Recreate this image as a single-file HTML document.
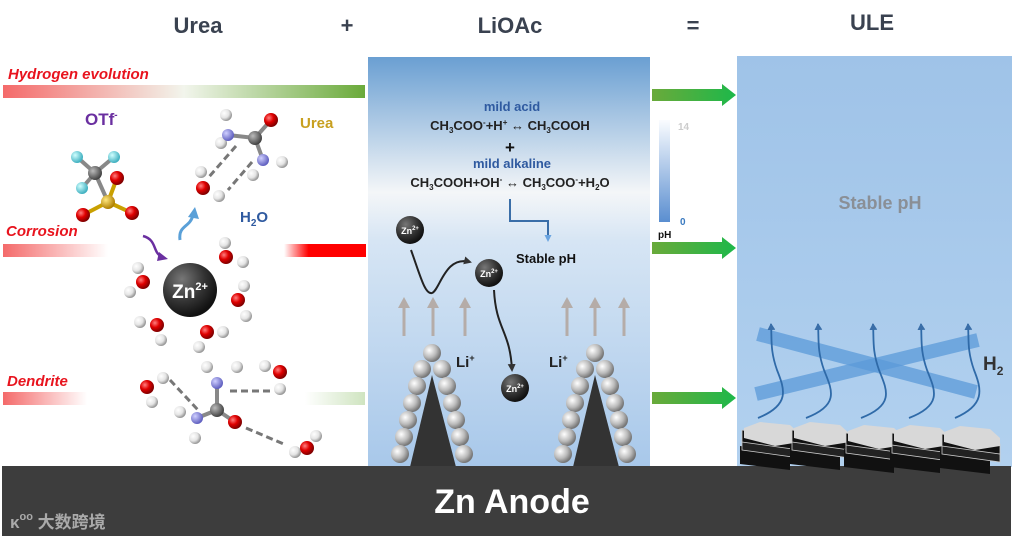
<!DOCTYPE html>
<html><head><meta charset="utf-8"><style>body{margin:0;background:#fff}svg{display:block}text{font-family:"Liberation Sans","Noto Sans CJK SC",sans-serif;font-weight:bold}</style></head><body>
<svg width="1014" height="538" viewBox="0 0 1014 538" xmlns="http://www.w3.org/2000/svg">
<defs>
<radialGradient id="gO" cx="35%" cy="35%" r="65%"><stop offset="0" stop-color="#ff8080"/><stop offset=".5" stop-color="#e00000"/><stop offset="1" stop-color="#800000"/></radialGradient>
<radialGradient id="gH" cx="35%" cy="35%" r="65%"><stop offset="0" stop-color="#fff"/><stop offset=".6" stop-color="#e4e4e4"/><stop offset="1" stop-color="#999"/></radialGradient>
<radialGradient id="gN" cx="35%" cy="35%" r="65%"><stop offset="0" stop-color="#d0d0ff"/><stop offset="1" stop-color="#6060c0"/></radialGradient>
<radialGradient id="gC" cx="35%" cy="35%" r="65%"><stop offset="0" stop-color="#bbb"/><stop offset="1" stop-color="#444"/></radialGradient>
<radialGradient id="gF" cx="35%" cy="35%" r="65%"><stop offset="0" stop-color="#d0ffff"/><stop offset="1" stop-color="#40b0c0"/></radialGradient>
<radialGradient id="gS" cx="35%" cy="35%" r="65%"><stop offset="0" stop-color="#ffe880"/><stop offset="1" stop-color="#b08000"/></radialGradient>
<radialGradient id="gZ" cx="35%" cy="30%" r="70%"><stop offset="0" stop-color="#777"/><stop offset=".6" stop-color="#333"/><stop offset="1" stop-color="#111"/></radialGradient>
<radialGradient id="gA" cx="35%" cy="35%" r="65%"><stop offset="0" stop-color="#fff"/><stop offset=".6" stop-color="#bbb"/><stop offset="1" stop-color="#777"/></radialGradient>
<linearGradient id="mid" x1="0" y1="0" x2="0" y2="1"><stop offset="0" stop-color="#6a9fd2"/><stop offset=".33" stop-color="#f4f6f8"/><stop offset=".45" stop-color="#d6e5f4"/><stop offset="1" stop-color="#a8c8ea"/></linearGradient>
<linearGradient id="rgt" x1="0" y1="0" x2="0" y2="1"><stop offset="0" stop-color="#9fc3e8"/><stop offset="1" stop-color="#b2d1ef"/></linearGradient>
<linearGradient id="hyd" x1="0" x2="1"><stop offset="0" stop-color="#f46a6a"/><stop offset=".5" stop-color="#f2f5ec"/><stop offset="1" stop-color="#6aaa3a"/></linearGradient>
<linearGradient id="corL" x1="0" x2="1"><stop offset="0" stop-color="#f46a6a"/><stop offset="1" stop-color="#fff"/></linearGradient>
<linearGradient id="corR" x1="0" x2="1"><stop offset="0" stop-color="#fff"/><stop offset=".3" stop-color="#ff0000"/><stop offset="1" stop-color="#ff0000"/></linearGradient>
<linearGradient id="denR" x1="0" x2="1"><stop offset="0" stop-color="#fff"/><stop offset="1" stop-color="#cfe4c0"/></linearGradient>
<linearGradient id="grn" x1="0" x2="1"><stop offset="0" stop-color="#6aaa3a"/><stop offset="1" stop-color="#1db84a"/></linearGradient>
<linearGradient id="ph" x1="0" y1="0" x2="0" y2="1"><stop offset="0" stop-color="#fafcff"/><stop offset="1" stop-color="#5a8ed0"/></linearGradient>
<marker id="ar" markerUnits="userSpaceOnUse" markerWidth="8" markerHeight="8" refX="6" refY="4" orient="auto"><path d="M0,0 L8,4 L0,8z" fill="#333"/></marker>
<marker id="arB" markerUnits="userSpaceOnUse" markerWidth="7" markerHeight="8" refX="6" refY="4" orient="auto"><path d="M0,0 L7,4 L0,8z" fill="#3a6ea8"/></marker>
<marker id="arL" markerUnits="userSpaceOnUse" markerWidth="7" markerHeight="7" refX="5" refY="3.5" orient="auto"><path d="M0,0 L7,3.5 L0,7z" fill="#6aa4e0"/></marker>
</defs>

<g fill="#3a4250" font-size="22" text-anchor="middle">
<text x="198" y="33">Urea</text><text x="347" y="33">+</text><text x="510" y="33">LiOAc</text><text x="693" y="33">=</text><text x="872" y="30">ULE</text></g>

<rect x="368" y="57" width="282" height="410" fill="url(#mid)"/>
<rect x="737" y="56" width="275" height="411" fill="url(#rgt)"/>

<rect x="3" y="85" width="362" height="13" fill="url(#hyd)"/>
<rect x="3" y="244" width="105" height="13" fill="url(#corL)"/>
<rect x="284" y="244" width="82" height="13" fill="url(#corR)"/>
<rect x="3" y="392" width="84" height="13" fill="url(#corL)"/>
<rect x="305" y="392" width="60" height="13" fill="url(#denR)"/>
<g fill="#e8141e" font-size="15" font-style="italic">
<text x="8" y="79">Hydrogen evolution</text><text x="6" y="236">Corrosion</text><text x="7" y="386">Dendrite</text></g>
<text x="85" y="125" fill="#6a2fa0" font-size="17">OTf<tspan font-size="10" dy="-7">-</tspan></text>
<text x="300" y="128" fill="#c8a020" font-size="15">Urea</text>
<text x="240" y="222" fill="#2f5aa0" font-size="15">H<tspan font-size="10" dy="4">2</tspan><tspan dy="-4">O</tspan></text>

<g stroke="#888" stroke-width="4">
<line x1="95" y1="173" x2="77" y2="157"/><line x1="95" y1="173" x2="114" y2="157"/><line x1="95" y1="173" x2="82" y2="188"/><line x1="95" y1="173" x2="108" y2="202"/>
<line x1="108" y1="202" x2="117" y2="178" stroke="#c9a000"/><line x1="108" y1="202" x2="83" y2="215" stroke="#c9a000"/><line x1="108" y1="202" x2="132" y2="213" stroke="#c9a000"/>
<line x1="228" y1="135" x2="255" y2="138"/><line x1="255" y1="138" x2="271" y2="120"/><line x1="255" y1="138" x2="263" y2="160"/>
<line x1="217" y1="383" x2="217" y2="410"/><line x1="217" y1="410" x2="235" y2="422"/><line x1="217" y1="410" x2="197" y2="418"/>
</g>
<g stroke="#777" stroke-width="3" stroke-dasharray="7,4" fill="none">
<line x1="236" y1="146" x2="208" y2="178"/><line x1="252" y1="162" x2="228" y2="190"/>
<line x1="170" y1="380" x2="198" y2="410"/><line x1="230" y1="391" x2="272" y2="391"/><line x1="246" y1="428" x2="286" y2="445"/>
</g>

<circle cx="77" cy="157" r="6" fill="url(#gF)"/><circle cx="114" cy="157" r="6" fill="url(#gF)"/><circle cx="82" cy="188" r="6" fill="url(#gF)"/>
<circle cx="95" cy="173" r="7" fill="url(#gC)"/>
<circle cx="117" cy="178" r="7" fill="url(#gO)"/><circle cx="108" cy="202" r="7" fill="url(#gS)"/>
<circle cx="83" cy="215" r="7" fill="url(#gO)"/><circle cx="132" cy="213" r="7" fill="url(#gO)"/>
<circle cx="226" cy="115" r="6" fill="url(#gH)"/><circle cx="221" cy="143" r="6" fill="url(#gH)"/><circle cx="282" cy="162" r="6" fill="url(#gH)"/><circle cx="253" cy="175" r="6" fill="url(#gH)"/>
<circle cx="228" cy="135" r="6" fill="url(#gN)"/><circle cx="263" cy="160" r="6" fill="url(#gN)"/><circle cx="255" cy="138" r="7" fill="url(#gC)"/><circle cx="271" cy="120" r="7" fill="url(#gO)"/>
<circle cx="201" cy="172" r="6" fill="url(#gH)"/><circle cx="219" cy="196" r="6" fill="url(#gH)"/><circle cx="203" cy="188" r="7" fill="url(#gO)"/>

<path d="M143,236 C158,240 152,254 163,257" stroke="#6a2fa0" stroke-width="2.5" fill="none"/><path d="M159,252 L168,259 L157,261z" fill="#6a2fa0"/>
<path d="M180,240 C178,225 190,228 193,215" stroke="#5aa0d8" stroke-width="3" fill="none"/><path d="M188,217 L195,207 L199,219z" fill="#5aa0d8"/>

<circle cx="190" cy="290" r="27" fill="url(#gZ)"/>
<text x="190" y="298" fill="#fff" font-size="19" text-anchor="middle">Zn<tspan font-size="11" dy="-8">2+</tspan></text>
<g>
<circle cx="225" cy="243" r="6" fill="url(#gH)"/><circle cx="243" cy="262" r="6" fill="url(#gH)"/><circle cx="226" cy="257" r="7" fill="url(#gO)"/>
<circle cx="138" cy="268" r="6" fill="url(#gH)"/><circle cx="130" cy="292" r="6" fill="url(#gH)"/><circle cx="143" cy="282" r="7" fill="url(#gO)"/>
<circle cx="244" cy="286" r="6" fill="url(#gH)"/><circle cx="246" cy="316" r="6" fill="url(#gH)"/><circle cx="238" cy="300" r="7" fill="url(#gO)"/>
<circle cx="140" cy="322" r="6" fill="url(#gH)"/><circle cx="161" cy="340" r="6" fill="url(#gH)"/><circle cx="157" cy="325" r="7" fill="url(#gO)"/>
<circle cx="223" cy="332" r="6" fill="url(#gH)"/><circle cx="199" cy="347" r="6" fill="url(#gH)"/><circle cx="207" cy="332" r="7" fill="url(#gO)"/>
<circle cx="163" cy="378" r="6" fill="url(#gH)"/><circle cx="152" cy="402" r="6" fill="url(#gH)"/><circle cx="147" cy="387" r="7" fill="url(#gO)"/>
<circle cx="207" cy="367" r="6" fill="url(#gH)"/><circle cx="237" cy="367" r="6" fill="url(#gH)"/><circle cx="180" cy="412" r="6" fill="url(#gH)"/><circle cx="195" cy="438" r="6" fill="url(#gH)"/>
<circle cx="217" cy="383" r="6" fill="url(#gN)"/><circle cx="197" cy="418" r="6" fill="url(#gN)"/><circle cx="217" cy="410" r="7" fill="url(#gC)"/><circle cx="235" cy="422" r="7" fill="url(#gO)"/>
<circle cx="265" cy="366" r="6" fill="url(#gH)"/><circle cx="280" cy="389" r="6" fill="url(#gH)"/><circle cx="280" cy="372" r="7" fill="url(#gO)"/>
<circle cx="295" cy="452" r="6" fill="url(#gH)"/><circle cx="316" cy="436" r="6" fill="url(#gH)"/><circle cx="307" cy="448" r="7" fill="url(#gO)"/>
</g>

<g text-anchor="middle" font-size="13">
<text x="512" y="111" fill="#2f5aa0">mild acid</text>
<text x="510" y="130" fill="#222">CH<tspan font-size="8" dy="3">3</tspan><tspan dy="-3">COO</tspan><tspan font-size="8" dy="-5">-</tspan><tspan dy="5">+H</tspan><tspan font-size="8" dy="-5">+</tspan><tspan dy="5"> ↔ CH</tspan><tspan font-size="8" dy="3">3</tspan><tspan dy="-3">COOH</tspan></text>
<text x="510" y="153" fill="#111" font-size="17">+</text>
<text x="512" y="168" fill="#2f5aa0">mild alkaline</text>
<text x="510" y="187" fill="#222">CH<tspan font-size="8" dy="3">3</tspan><tspan dy="-3">COOH+OH</tspan><tspan font-size="8" dy="-5">-</tspan><tspan dy="5"> ↔ CH</tspan><tspan font-size="8" dy="3">3</tspan><tspan dy="-3">COO</tspan><tspan font-size="8" dy="-5">-</tspan><tspan dy="5">+H</tspan><tspan font-size="8" dy="3">2</tspan><tspan dy="-3">O</tspan></text>
</g>
<path d="M510,199 V221 H548 V240" stroke="#3a6ea8" stroke-width="2" fill="none" marker-end="url(#arL)"/>
<text x="516" y="263" font-size="13" fill="#111">Stable pH</text>

<rect x="659" y="120" width="11" height="102" fill="url(#ph)"/>
<text x="678" y="130" fill="#ccc" font-size="10">14</text>
<text x="680" y="225" fill="#3a7ac0" font-size="10">0</text>
<text x="658" y="238" fill="#111" font-size="10">pH</text>

<g font-size="9" fill="#fff" text-anchor="middle">
<circle cx="410" cy="230" r="14" fill="url(#gZ)"/><text x="410" y="234">Zn<tspan font-size="6" dy="-4">2+</tspan></text>
<circle cx="489" cy="273" r="14" fill="url(#gZ)"/><text x="489" y="277">Zn<tspan font-size="6" dy="-4">2+</tspan></text>
<circle cx="515" cy="388" r="14" fill="url(#gZ)"/><text x="515" y="392">Zn<tspan font-size="6" dy="-4">2+</tspan></text>
</g>
<path d="M411,250 C420,275 425,295 432,293 C440,290 445,255 470,262" stroke="#222" stroke-width="2" fill="none" marker-end="url(#ar)"/>
<path d="M494,290 C496,330 510,330 512,370" stroke="#222" stroke-width="2" fill="none" marker-end="url(#ar)"/>
<g stroke="#b5aca8" stroke-width="3">
<line x1="404" y1="336" x2="404" y2="306"/><line x1="433" y1="336" x2="433" y2="306"/><line x1="465" y1="336" x2="465" y2="306"/>
<line x1="567" y1="336" x2="567" y2="306"/><line x1="595" y1="336" x2="595" y2="306"/><line x1="624" y1="336" x2="624" y2="306"/></g>
<g fill="#b5aca8"><path d="M398,308 L404,297 L410,308z"/><path d="M427,308 L433,297 L439,308z"/><path d="M459,308 L465,297 L471,308z"/><path d="M561,308 L567,297 L573,308z"/><path d="M589,308 L595,297 L601,308z"/><path d="M618,308 L624,297 L630,308z"/></g>
<text x="456" y="367" font-size="15" fill="#222">Li<tspan font-size="9" dy="-6">+</tspan></text>
<text x="549" y="367" font-size="15" fill="#222">Li<tspan font-size="9" dy="-6">+</tspan></text>

<g id="den">
<path d="M432,375 L410,467 L456,467z" fill="#333"/>
<g fill="url(#gA)">
<circle cx="432" cy="353" r="9"/><circle cx="422" cy="369" r="9"/><circle cx="442" cy="369" r="9"/>
<circle cx="417" cy="386" r="9"/><circle cx="447" cy="386" r="9"/><circle cx="412" cy="403" r="9"/><circle cx="452" cy="403" r="9"/>
<circle cx="408" cy="420" r="9"/><circle cx="456" cy="420" r="9"/><circle cx="404" cy="437" r="9"/><circle cx="460" cy="437" r="9"/>
<circle cx="400" cy="454" r="9"/><circle cx="464" cy="454" r="9"/></g></g>
<use href="#den" x="163"/>

<g fill="url(#grn)">
<path d="M652,89 H722 V84 L736,95 L722,106 V101 H652z"/>
<path d="M652,242 H722 V237 L736,248 L722,259 V254 H652z"/>
<path d="M652,392 H722 V387 L736,398 L722,409 V404 H652z"/></g>

<text x="880" y="209" fill="#8a8f96" font-size="18" text-anchor="middle">Stable pH</text>

<g stroke="#5b9ad8" stroke-opacity=".75" stroke-width="14">
<line x1="758" y1="334" x2="976" y2="392"/><line x1="756" y1="394" x2="978" y2="340"/></g>
<g stroke="#2f6aa8" stroke-width="1.8" fill="none" marker-end="url(#arB)">
<path d="M758,418 C790,405 785,390 777,370 C770,350 772,340 771,324"/>
<path d="M806,418 C840,405 832,390 824,370 C817,350 819,340 818,324"/>
<path d="M861,418 C895,405 887,390 879,370 C872,350 874,340 873,324"/>
<path d="M909,418 C943,405 935,390 927,370 C920,350 922,340 921,324"/>
<path d="M955,418 C985,405 982,390 974,370 C967,350 969,340 968,324"/></g>
<text x="983" y="370" fill="#333" font-size="19">H<tspan font-size="12" dy="5">2</tspan></text>

<rect x="2" y="466" width="1009" height="70" fill="#3d3d3d"/>
<text x="512" y="513" fill="#fff" font-size="34" text-anchor="middle">Zn Anode</text>
<text x="10" y="528" fill="#aaa" font-size="17">ᴋ<tspan font-size="11" dy="-8">oo</tspan><tspan dy="8"> 大数跨境</tspan></text>

<g id="hx">
<path d="M740,446 L790,452 L790,470 L740,464z" fill="#111"/>
<path d="M742,440 L800,448 L800,458 L742,450z" fill="#222" stroke="#ccc" stroke-width=".8"/>
<path d="M742,430 L800,440 L800,450 L742,442z" fill="#111" stroke="#ccc" stroke-width=".8"/>
<path d="M744,428 L760,422 L790,425 L800,434 L800,442 L775,446 L744,438z" fill="#d8d8d8"/>
</g>
<use href="#hx" x="50"/><use href="#hx" x="104" y="3"/><use href="#hx" x="150" y="3"/><use href="#hx" x="200" y="4"/>
</svg>
</body></html>
